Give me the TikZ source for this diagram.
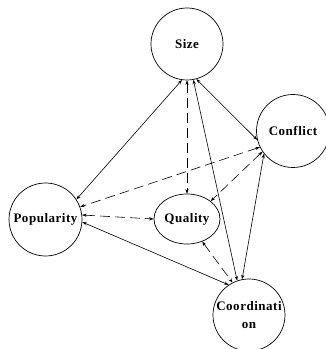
\documentclass[tikz,border=0pt]{standalone}
\usepackage{fontspec}
\setmainfont{Liberation Serif}
\newfontfamily\lblfont[LetterSpace=4]{Liberation Serif}
\usetikzlibrary{arrows.meta,shapes.geometric}
\tikzset{
  x=1pt,y=1pt,
  circ/.style={circle,draw,line width=0.7pt,inner sep=0pt,minimum size=72pt,font=\lblfont\fontsize{13}{16}\selectfont\bfseries},
  ell/.style={ellipse,draw,line width=0.7pt,inner sep=0pt,minimum width=66pt,minimum height=50pt,font=\lblfont\fontsize{13}{16}\selectfont\bfseries},
  link/.style={line width=0.6pt,{Stealth[length=4.5pt,width=3.2pt]}-{Stealth[length=4.5pt,width=3.2pt]}},
  dlink/.style={link,dash pattern=on 10pt off 5pt}
}
\begin{document}
\begin{tikzpicture}
\useasboundingbox (0,0) rectangle (325,349);
\node[circ] (size) at (187,305) {Size};
\node[circ,minimum size=73pt] (conf) at (293,218) {Conflict};
\node[circ,minimum size=73pt] (pop) at (45.5,129.5) {Popularity};
\node[ell] (qual) at (187,130) {Quality};
\node[circ,align=center] (coord) at (249,34) {Coordinati\\[2pt]on};
% Size
\draw[link] (size.262) -- (pop.33);
\draw[dlink] (size.270) -- (qual.90);
\draw[link] (size.280) -- (coord.109);
\draw[link] (size.285) -- (conf.194);
% Conflict
\draw[dlink] (conf.206) -- (pop.20);
\draw[dlink] (conf.214) -- (qual.37);
\draw[link] (conf.218) -- (coord.101);
% Popularity
\draw[dlink] (pop.7) -- (qual.180);
\draw[link] (pop.356) -- (coord.124);
% Quality
\draw[dlink] (qual.304) -- (coord.117);
\end{tikzpicture}
\end{document}
